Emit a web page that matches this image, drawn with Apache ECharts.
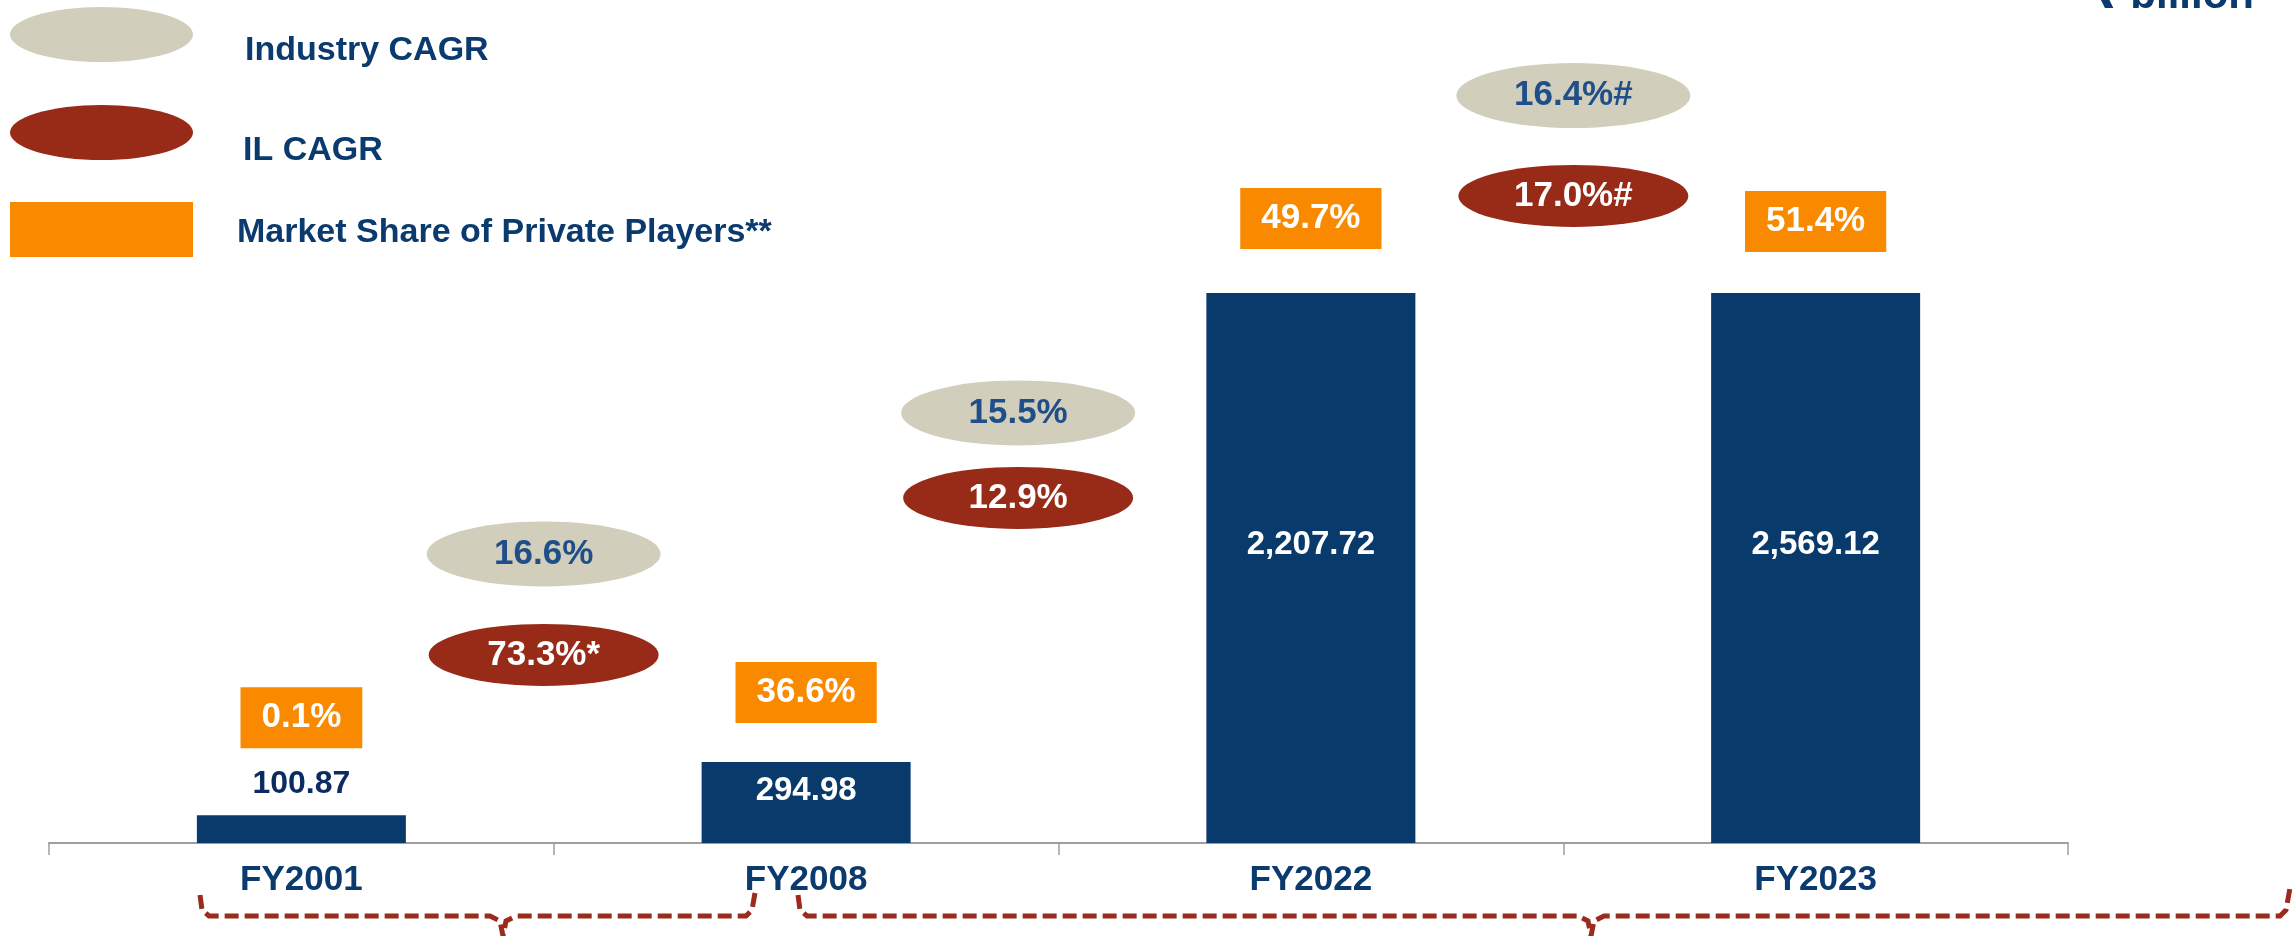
<!DOCTYPE html>
<html>
<head>
<meta charset="utf-8">
<script src="https://cdn.jsdelivr.net/npm/echarts@6/dist/echarts.min.js"></script>
<style>
  html, body { margin: 0; padding: 0; background: #fff; }
  #chart { width: 2295px; height: 936px; }
</style>
</head>
<body>
<div id="chart"></div>
<script>
// data
var years = ['FY2001', 'FY2008', 'FY2022', 'FY2023'];
var premiums = [100.87, 294.98, 2207.72, 2569.12];
var privateShare = [0.1, 36.6, 49.7, 51.4];
var industryCagr = [16.6, 15.5, 16.4];
var industryNotes = ['', '', '#'];
var ilCagr = [73.3, 12.9, 17.0];
var ilNotes = ['*', '', '#'];

// where the CAGR ovals sit (x between categories, y in axis units)
var cagrX = [0.48, 1.42, 2.52];
var industryY = [1051, 1564, 2718];
var ilY = [684, 1255, 2353];

var navy = '#0A3A6E';
var font = '"Liberation Sans", Arial, "DejaVu Sans", sans-serif';
var ellipse = 'path://M0,50A100,50,0,1,1,200,50A100,50,0,1,1,0,50Z';

var barLabels = [
    { position: 'top', distance: 15, color: '#0C2B62', fontSize: 32 },
    { position: 'inside', offset: [0, -12] },
    { position: 'inside', offset: [0, -23] },
    { position: 'inside', offset: [0, -23] }
];
var shareDistance = [67, 39, 44, 41];

function pct(v, note) {
    return v.toFixed(1) + '%' + (note || '');
}

function legendItem(top, name, icon, pad, color) {
    var item = { name: name, icon: icon };
    if (color) item.itemStyle = { color: color };
    return {
        left: 5, top: top, orient: 'vertical', selectedMode: false,
        itemWidth: 183, itemHeight: 55, symbolKeepAspect: false,
        data: [item],
        formatter: '{t|{name}}',
        textStyle: {
            rich: {
                t: { fontSize: 34, fontWeight: 'bold', color: navy, fontFamily: font, padding: pad }
            }
        }
    };
}

var chart = echarts.init(document.getElementById('chart'));
chart.setOption({
    animation: false,
    backgroundColor: '#fff',
    textStyle: { fontFamily: font },

    title: {
        text: '₹ billion',
        right: 36,
        top: -30,
        textStyle: { fontSize: 42, fontWeight: 'bold', color: navy, fontFamily: font }
    },

    legend: [
        legendItem(2, 'Industry CAGR', ellipse, [32, 0, 0, 47]),
        legendItem(100, 'IL CAGR', ellipse, [36, 0, 0, 45]),
        legendItem(197, 'Market Share of Private Players**', 'rect', [6, 0, 0, 39], '#F98A00')
    ],

    grid: { left: 49, right: 227, top: 293, bottom: 93 },

    xAxis: [{
        type: 'category',
        data: years,
        axisLine: { lineStyle: { color: '#9E9E9E', width: 2 } },
        axisTick: { show: true, length: 12, lineStyle: { color: '#9E9E9E', width: 1.5 } },
        axisLabel: { margin: 20, fontSize: 35, fontWeight: 'bold', color: navy }
    }, {
        type: 'value',
        min: -0.5,
        max: 3.5,
        show: false
    }],

    yAxis: {
        type: 'value',
        min: 0,
        max: 2000,
        show: false,
        splitLine: { show: false }
    },

    series: [{
        name: 'Premium',
        type: 'bar',
        barWidth: 209,
        clip: true,
        itemStyle: { color: '#083B6C' },
        emphasis: { disabled: true },
        label: {
            show: true,
            fontSize: 33,
            fontWeight: 'bold',
            color: '#fff',
            formatter: function (p) {
                return echarts.format.addCommas(p.value.toFixed(2));
            }
        },
        data: premiums.map(function (v, i) {
            return { value: v, label: barLabels[i] };
        })
    }, {
        name: 'Market Share of Private Players**',
        type: 'bar',
        barWidth: 209,
        barGap: '-100%',
        clip: true,
        z: 4,
        itemStyle: { color: 'rgba(0,0,0,0)' },
        emphasis: { disabled: true },
        label: {
            show: true,
            position: 'top',
            fontSize: 35,
            lineHeight: 35,
            fontWeight: 'bold',
            color: '#fff',
            backgroundColor: '#F98A00',
            padding: [13, 21],
            formatter: function (p) {
                return pct(privateShare[p.dataIndex]);
            }
        },
        data: premiums.map(function (v, i) {
            return { value: v, label: { distance: shareDistance[i] } };
        })
    }, {
        name: 'Industry CAGR',
        type: 'scatter',
        xAxisIndex: 1,
        clip: false,
        z: 5,
        symbol: ellipse,
        symbolSize: [234, 65],
        itemStyle: { color: '#D1CEBB', opacity: 1 },
        emphasis: { disabled: true },
        label: {
            show: true,
            position: 'inside',
            fontSize: 35,
            fontWeight: 'bold',
            color: '#1F4E89',
            formatter: function (p) {
                return pct(industryCagr[p.dataIndex], industryNotes[p.dataIndex]);
            }
        },
        data: industryCagr.map(function (v, i) {
            return [cagrX[i], industryY[i], v];
        })
    }, {
        name: 'IL CAGR',
        type: 'scatter',
        xAxisIndex: 1,
        clip: false,
        z: 5,
        symbol: ellipse,
        symbolSize: [230, 62],
        itemStyle: { color: '#982A18', opacity: 1 },
        emphasis: { disabled: true },
        label: {
            show: true,
            position: 'inside',
            fontSize: 35,
            fontWeight: 'bold',
            color: '#fff',
            formatter: function (p) {
                return pct(ilCagr[p.dataIndex], ilNotes[p.dataIndex]);
            }
        },
        data: ilCagr.map(function (v, i) {
            return [cagrX[i], ilY[i], v];
        })
    }],

    // dashed braces under the axis
    graphic: [{
        type: 'polyline',
        silent: true,
        shape: {
            points: [[200, 895], [202, 910], [209, 916], [490, 916], [500, 921], [503, 936],
                     [506, 921], [516, 916], [746, 916], [752, 910], [755, 893]]
        },
        style: { stroke: '#9B2B1D', lineWidth: 5, fill: null, lineDash: [14, 6] }
    }, {
        type: 'polyline',
        silent: true,
        shape: {
            points: [[798, 895], [800, 910], [807, 916], [1578, 916], [1588, 921], [1591, 936],
                     [1594, 921], [1604, 916], [2280, 916], [2286, 910], [2290, 888]]
        },
        style: { stroke: '#9B2B1D', lineWidth: 5, fill: null, lineDash: [14, 6] }
    }]
});
</script>
</body>
</html>
